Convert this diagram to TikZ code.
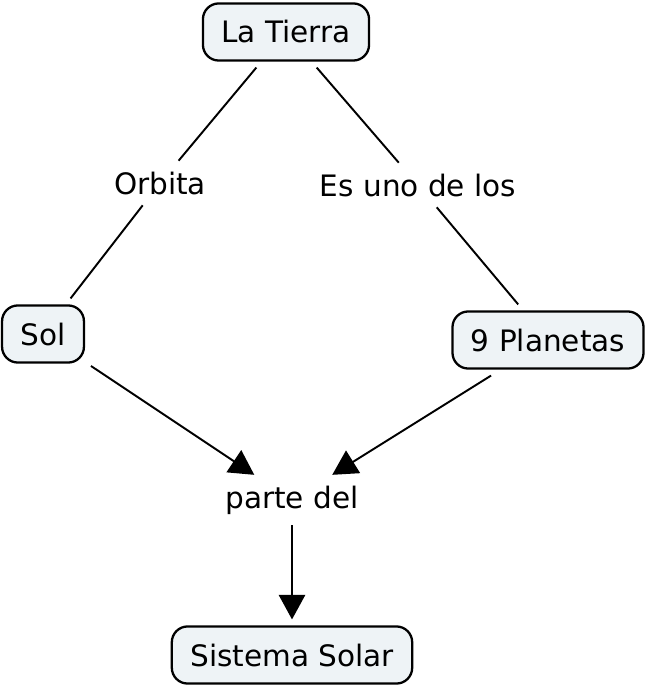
\documentclass[tikz,border=0pt]{standalone}
\usepackage{fontspec}
\setmainfont{DejaVu Sans}
\usetikzlibrary{arrows.meta}
\definecolor{conceptfill}{RGB}{238,243,246}
\tikzset{
	concept/.style={draw=black, line width=1.3pt, fill=conceptfill, rounded corners=9pt,
		inner xsep=10.5pt, minimum height=32.5pt, outer sep=4pt, font=\fontsize{16.8}{19}\selectfont},
	linkword/.style={inner sep=6pt, font=\fontsize{16.8}{19}\selectfont},
	link/.style={line width=1.1pt},
	arrowlink/.style={line width=1.1pt, -{Triangle[length=14pt,width=15pt]}}
}
\begin{document}
\begin{tikzpicture}[x=0.02cm,y=-0.02cm]
	\useasboundingbox (0,0) rectangle (650,692);
	% conceptos
	\node[concept] (tierra) at (286,32) {La Tierra};
	\node[concept] (sol) at (43,334) {Sol};
	\node[concept] (planetas) at (548,340) {9 Planetas};
	\node[concept] (sistema) at (292,655) {Sistema Solar};
	% palabras de enlace
	\node[linkword] (orbita) at (160,183) {Orbita};
	\node[linkword] (esuno) at (418,185) {Es uno de los};
	\node[linkword] (parte) at (292,500) {parte del};
	% enlaces
	\draw[link] (tierra) -- (orbita);
	\draw[link] (orbita) -- (sol);
	\draw[link] (tierra) -- (esuno);
	\draw[link] (esuno) -- (planetas);
	\draw[arrowlink] (sol) -- (parte);
	\draw[arrowlink] (planetas) -- (parte);
	\draw[arrowlink] (parte) -- (sistema);
\end{tikzpicture}
\end{document}
